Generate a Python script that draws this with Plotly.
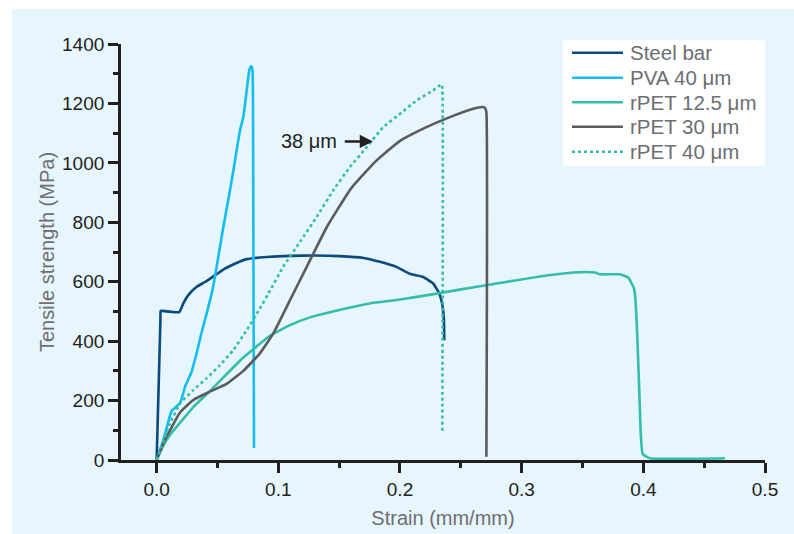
import plotly.graph_objects as go

# Stress-strain curves (strain in mm/mm, stress in MPa)
steel_strain = [0, 0.0031, 0.0033, 0.0045, 0.0186, 0.0219, 0.026, 0.0329, 0.0397, 0.0466,
                0.0548, 0.0657, 0.074, 0.0904, 0.1096, 0.13, 0.15, 0.17, 0.1835, 0.197,
                0.208, 0.219, 0.2273, 0.2323, 0.2351, 0.2361, 0.2364]
steel_stress = [0, 470, 502, 502, 498, 527, 555, 583, 599, 618,
                641, 663, 676, 683, 687, 688, 686, 680, 667, 650,
                627, 616, 594, 560, 515, 471, 403]

pva_strain = [0, 0.0055, 0.0123, 0.0164, 0.0197, 0.0233, 0.0288, 0.0329, 0.037, 0.0411,
              0.0452, 0.0479, 0.0548, 0.0603, 0.0644, 0.0685, 0.0712, 0.074, 0.0761,
              0.0775, 0.0783, 0.0789, 0.0792, 0.0800]
pva_stress = [0, 67, 165, 180, 196, 246, 298, 360, 430, 493,
              560, 616, 784, 908, 1008, 1109, 1154, 1244, 1311,
              1325, 1322, 1300, 1200, 40]

rpet125_strain = [0, 0.005, 0.011, 0.0192, 0.0301, 0.0438, 0.0575, 0.0712, 0.0822, 0.0931,
                  0.1096, 0.126, 0.15, 0.175, 0.2, 0.23, 0.2657, 0.293, 0.3205, 0.3479,
                  0.3602, 0.3643, 0.3808, 0.3876, 0.3904, 0.3923, 0.3935, 0.3950, 0.3965,
                  0.3980, 0.3995, 0.4054, 0.467]
rpet125_stress = [0, 45, 85, 125, 178, 232, 289, 345, 382, 418,
                  454, 480, 505, 527, 540, 560, 585, 603, 621, 632,
                  631, 625, 625, 614, 594, 578, 540, 420, 250,
                  80, 20, 6, 6]

rpet30_strain = [0, 0.0068, 0.011, 0.0192, 0.0301, 0.0438, 0.0575, 0.0712, 0.0849, 0.0959,
                 0.1096, 0.1233, 0.14, 0.16, 0.18, 0.2, 0.22, 0.241,
                 0.2602, 0.2679, 0.2700, 0.2710, 0.2710]
rpet30_stress = [0, 68, 100, 160, 202, 230, 256, 300, 359, 426,
                 538, 650, 785, 915, 1005, 1074, 1117, 1154,
                 1182, 1188, 1184, 1170, 11]

rpet40_strain = [0, 0.011, 0.0192, 0.0301, 0.0411, 0.052, 0.063, 0.074, 0.0849, 0.0918,
                 0.104, 0.1178, 0.1315, 0.1452, 0.1589, 0.1726, 0.1862, 0.2, 0.2137,
                 0.2273, 0.2342, 0.2348, 0.2348]
rpet40_stress = [0, 123, 190, 235, 275, 319, 370, 437, 510, 560,
                 650, 734, 818, 908, 986, 1053, 1120, 1165, 1210,
                 1244, 1264, 1255, 92]

names = ["Steel bar", "PVA 40 μm", "rPET 12.5 μm", "rPET 30 μm", "rPET 40 μm"]
colors = ["#0c4a7c", "#14bdf0", "#33bdaa", "#5a5b5d", "#33bdaa"]
dashes = ["solid", "solid", "solid", "solid", "dot"]
series = [(steel_strain, steel_stress), (pva_strain, pva_stress),
          (rpet125_strain, rpet125_stress), (rpet30_strain, rpet30_stress),
          (rpet40_strain, rpet40_stress)]

AXIS = "#231f20"
TITLE = "#6d6e71"
BG = "#e7f5fd"
FONT = "Liberation Sans, Arial, sans-serif"

fig = go.Figure()
for (xs, ys), name, col, dash in zip(series, names, colors, dashes):
    fig.add_trace(go.Scatter(x=xs, y=ys, name=name, mode="lines",
                             line=dict(color=col, width=2.6, dash=dash,
                                       shape="spline", smoothing=0.4),
                             showlegend=False))

# Panel background, inset from the top and left edges
shapes = [dict(type="rect", xref="paper", yref="paper", x0=-0.1693, x1=1.1,
               y0=-0.3, y1=1.0841, fillcolor=BG, line=dict(width=0), layer="below")]

# Legend box drawn by hand so the line samples can be long
shapes.append(dict(type="rect", xref="paper", yref="paper", x0=0.6863, x1=1.0,
                   y0=0.7067, y1=1.0096, fillcolor="white", line=dict(width=0),
                   layer="above"))
annotations = []
row_y = [0.979, 0.919, 0.860, 0.801, 0.741]
for name, col, dash, ry in zip(names, colors, dashes, row_y):
    shapes.append(dict(type="line", xref="paper", yref="paper", x0=0.7003, x1=0.7795,
                       y0=ry, y1=ry, line=dict(color=col, width=2.6, dash=dash)))
    annotations.append(dict(xref="paper", yref="paper", x=0.787, y=ry, text=name,
                            showarrow=False, xanchor="left", yanchor="middle",
                            font=dict(size=20.5, color=TITLE, family=FONT)))

# Callout pointing at the rPET 40 μm curve
annotations.append(dict(x=0.1778, y=1072, ax=0.1534, ay=1072, axref="x", ayref="y",
                        xref="x", yref="y", text="", showarrow=True, arrowhead=2,
                        arrowsize=1.1, arrowwidth=2.4, arrowcolor=AXIS))
annotations.append(dict(x=0.1495, y=1072, xref="x", yref="y", text="38 μm",
                        showarrow=False, xanchor="right", yanchor="middle",
                        font=dict(size=20, color=AXIS, family=FONT)))

fig.update_layout(
    width=794, height=534,
    margin=dict(l=121, r=29, t=44, b=74),
    paper_bgcolor="white", plot_bgcolor=BG,
    font=dict(family=FONT, color=AXIS),
    shapes=shapes, annotations=annotations,
)
fig.update_xaxes(
    range=[-0.0293, 0.5], tickvals=[0, 0.1, 0.2, 0.3, 0.4, 0.5],
    ticktext=["0.0", "0.1", "0.2", "0.3", "0.4", "0.5"],
    automargin=False,
    showgrid=False, zeroline=False, showline=True, linecolor=AXIS, linewidth=2.8,
    ticks="outside", ticklen=10, tickwidth=2.6, tickcolor=AXIS,
    tickfont=dict(size=19, color=AXIS, family=FONT),
    minor=dict(dtick=0.05, tick0=0, ticks="outside", ticklen=5, tickwidth=2.6,
               tickcolor=AXIS, showgrid=False),
    title=dict(text="Strain (mm/mm)", font=dict(size=20, color=TITLE, family=FONT),
               standoff=13),
)
fig.update_yaxes(
    range=[0, 1400], tickvals=[0, 200, 400, 600, 800, 1000, 1200, 1400],
    automargin=False,
    showgrid=False, zeroline=False, showline=True, linecolor=AXIS, linewidth=2.8,
    ticks="outside", ticklen=10, tickwidth=2.6, tickcolor=AXIS,
    tickfont=dict(size=19, color=AXIS, family=FONT),
    minor=dict(dtick=100, tick0=0, ticks="outside", ticklen=5, tickwidth=2.6,
               tickcolor=AXIS, showgrid=False),
    title=dict(text="Tensile strength (MPa)", font=dict(size=20, color=TITLE, family=FONT),
               standoff=3),
)

fig.write_html("out.html")
